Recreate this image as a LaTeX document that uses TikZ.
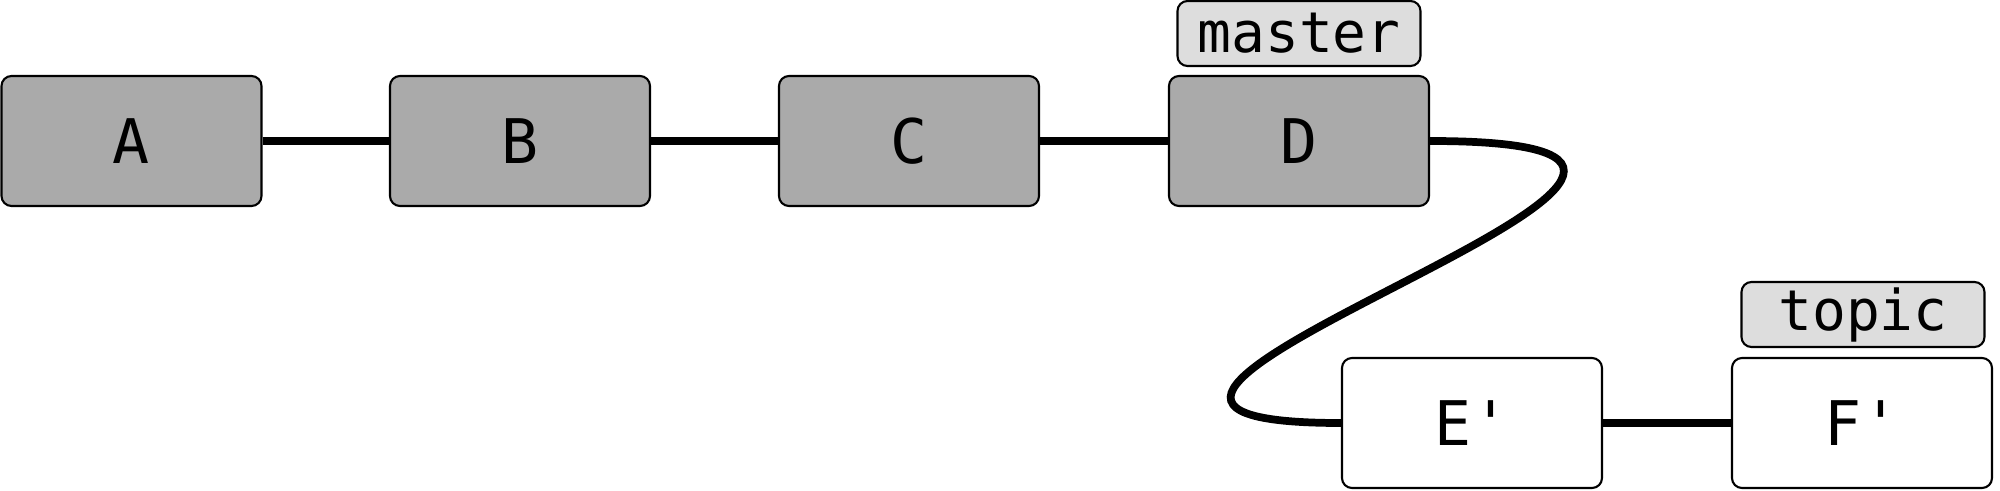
\documentclass[tikz,border=0pt]{standalone}
\usepackage{fontspec}
\setmonofont{DejaVu Sans Mono}
\definecolor{oldgray}{HTML}{AAAAAA}
\definecolor{taggray}{HTML}{DDDDDD}

\begin{document}
\begin{tikzpicture}[
  x=1cm, y=1cm,
  every node/.style={inner sep=1pt},
  commit/.style={draw, rounded corners=0.1cm, line width=0.6pt,
    minimum width=2.6cm, minimum height=1.3cm,
    font=\ttfamily\fontsize{17.5}{20}\selectfont},
  oldcommit/.style={commit, fill=oldgray},
  newcommit/.style={commit, fill=white},
  % branch labels sitting on top of a commit
  branchtag/.style={draw, rounded corners=0.1cm, line width=0.6pt, fill=taggray,
    minimum width=2.43cm, minimum height=0.65cm,
    font=\ttfamily\fontsize{16}{18}\selectfont},
  edge/.style={draw, line width=2.2pt}]

  \useasboundingbox (0,0) rectangle (20,4.9);

  % commits
  \node[oldcommit] (a)  at (1.315,3.49) {A};
  \node[oldcommit] (b)  at (5.20,3.49)  {B};
  \node[oldcommit] (c)  at (9.09,3.49)  {C};
  \node[oldcommit] (d)  at (12.99,3.49) {D};
  \node[newcommit] (e') at (14.72,0.67) {E'};
  \node[newcommit] (f') at (18.62,0.67) {F'};

  % branches
  \node[branchtag] (master) at (12.99,4.565) {master};
  \node[branchtag] (topic)  at (18.63,1.755) {topic};

  % history
  \draw[edge] (a) -- (b);
  \draw[edge] (b) -- (c);
  \draw[edge] (c) -- (d);
  \draw[edge] (d.east) .. controls +(4.8,0) and +(-4.3,0) .. (e'.west);
  \draw[edge] (e') -- (f');
\end{tikzpicture}
\end{document}
